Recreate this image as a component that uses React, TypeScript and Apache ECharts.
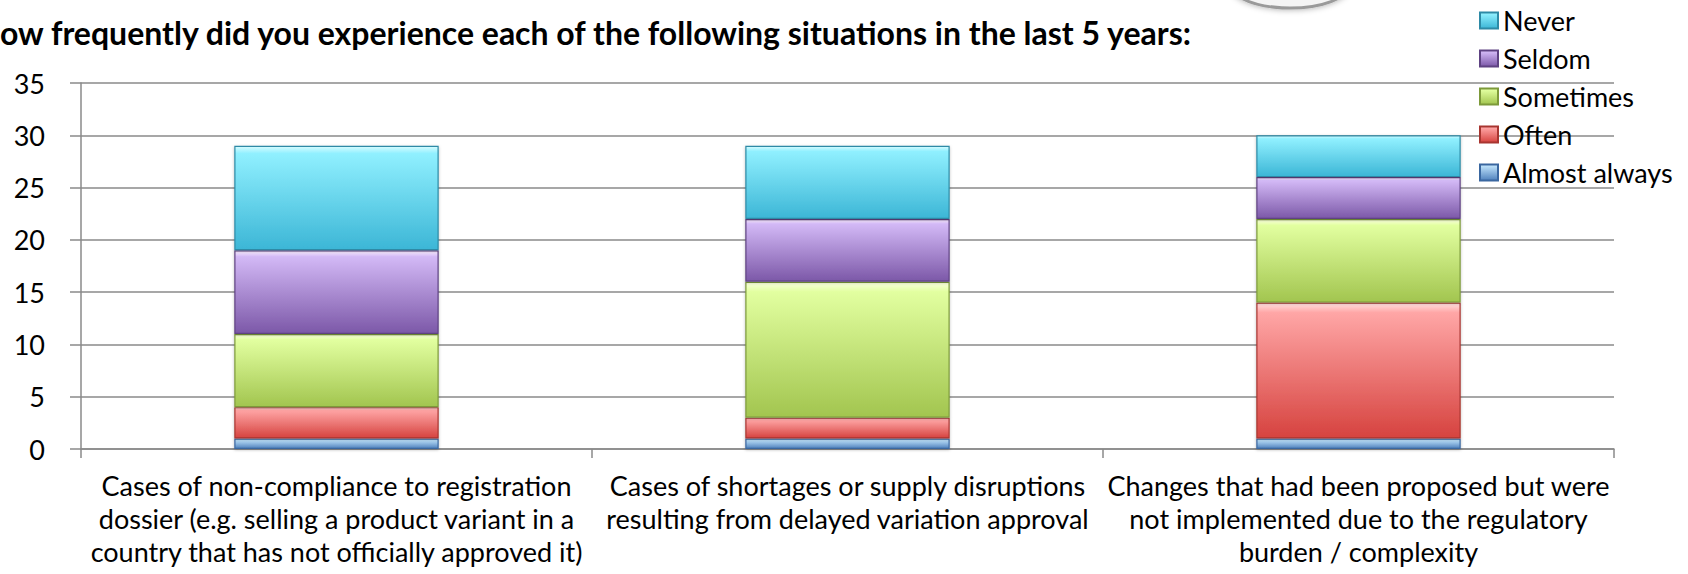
import React, { useEffect, useRef } from "react";
import * as echarts from "echarts";

const categories = [
  "Cases of non-compliance to registration\ndossier (e.g. selling a product variant in a\ncountry that has not officially approved it)",
  "Cases of shortages or supply disruptions\nresulting from delayed variation approval",
  "Changes that had been proposed but were\nnot implemented due to the regulatory\nburden / complexity",
];
const almostAlways = [1, 1, 1];
const often = [3, 2, 13];
const sometimes = [7, 13, 8];
const seldom = [8, 6, 4];
const never = [10, 7, 4];
const legendOrder = ["Never", "Seldom", "Sometimes", "Often", "Almost always"];
const titleText =
  "ow frequently did you experience each of the following situations in the last 5 years:";

const grad = (hi: string, top: string, bottom: string) =>
  new echarts.graphic.LinearGradient(0, 0, 0, 1, [
    { offset: 0, color: hi },
    { offset: 0.07, color: top },
    { offset: 1, color: bottom },
  ]);

export default function App() {
  const ref = useRef<HTMLDivElement>(null);
  useEffect(() => {
    document.body.style.margin = "0";
    const chart = echarts.init(ref.current!, null, { renderer: "svg" });
    const mk = (name: string, data: number[], fill: any, border: string) => ({
      name,
      type: "bar",
      stack: "total",
      data,
      barWidth: "40%",
      itemStyle: {
        color: fill,
        borderColor: border,
        borderWidth: 1.2,
        shadowColor: "rgba(0,0,0,0.25)",
        shadowBlur: 3,
        shadowOffsetY: 1,
      },
    });
    chart.setOption({
      animation: false,
      backgroundColor: "#ffffff",
      textStyle: { fontFamily: "Lato" },
      title: {
        text: titleText,
        left: -5,
        top: 11,
        textStyle: { fontFamily: "Lato", fontWeight: "bold", fontSize: 32, color: "#000" },
      },
      legend: {
        data: legendOrder,
        orient: "vertical",
        left: 1474,
        top: 2,
        itemWidth: 18,
        itemHeight: 16,
        itemGap: 11,
        icon: "rect",
        textStyle: { fontFamily: "Lato", fontSize: 27, color: "#000" },
      },
      graphic: [
        {
          type: "ellipse",
          shape: { cx: 1290, cy: -14, rx: 58, ry: 22 },
          style: {
            fill: "#f4f4f4",
            stroke: "#9a9a9a",
            lineWidth: 3,
            shadowBlur: 6,
            shadowColor: "rgba(0,0,0,0.35)",
          },
        },
      ],
      grid: { left: 81, right: 74, top: 83, bottom: 125 },
      xAxis: {
        type: "category",
        data: categories,
        axisLine: { lineStyle: { color: "#8a8a8a", width: 1.5 } },
        axisTick: { show: true, length: 9, lineStyle: { color: "#8a8a8a", width: 1.5 } },
        axisLabel: {
          interval: 0,
          margin: 20,
          fontFamily: "Lato",
          fontSize: 27,
          lineHeight: 33,
          color: "#000",
          align: "center",
        },
      },
      yAxis: {
        type: "value",
        min: 0,
        max: 35,
        interval: 5,
        axisLine: { show: true, lineStyle: { color: "#8a8a8a", width: 1.5 } },
        axisTick: { show: true, length: 11, lineStyle: { color: "#8a8a8a", width: 1.5 } },
        splitLine: { lineStyle: { color: "#8a8a8a", width: 1.5 } },
        axisLabel: { margin: 36, fontFamily: "Lato", fontSize: 27, color: "#000" },
      },
      series: [
        mk("Almost always", almostAlways, grad("#e8f6ff", "#bfe3fb", "#4f81bd"), "#3a67a0"),
        mk("Often", often, grad("#ffe0e0", "#ffa6a6", "#d6433f"), "#a83530"),
        mk("Sometimes", sometimes, grad("#fbffe0", "#e2ffa0", "#a2c54f"), "#7d9a3a"),
        mk("Seldom", seldom, grad("#fbeeff", "#d3b9f6", "#7c58a8"), "#5e4282"),
        mk("Never", never, grad("#d8fcff", "#90f0ff", "#3cb6d6"), "#2d8aa6"),
      ],
    });
    return () => chart.dispose();
  }, []);
  return <div ref={ref} style={{ width: 1688, height: 574 }} />;
}
